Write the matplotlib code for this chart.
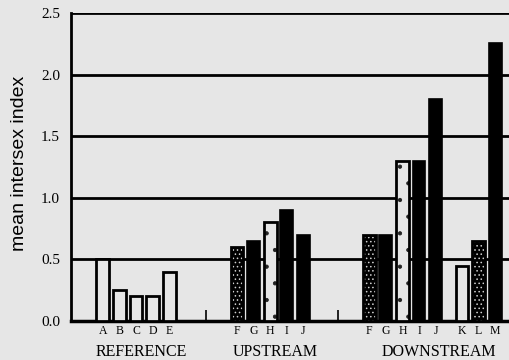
import matplotlib
matplotlib.use("Agg")
import matplotlib.pyplot as plt
import numpy as np

# ---- data ----
groups = ["REFERENCE", "UPSTREAM", "DOWNSTREAM"]
ref_labels = ["A", "B", "C", "D", "E"]
ref_values = [0.5, 0.25, 0.2, 0.2, 0.4]
ref_styles = ["open", "open", "open", "open", "open"]

up_labels = ["F", "G", "H", "I", "J"]
up_values = [0.6, 0.65, 0.8, 0.9, 0.7]
up_styles = ["stipple", "solid", "dots", "solid", "solid"]

down_labels = ["F", "G", "H", "I", "J", "K", "L", "M"]
down_values = [0.7, 0.7, 1.3, 1.3, 1.8, 0.45, 0.65, 2.26]
down_styles = ["stipple", "solid", "dots", "solid", "solid", "open", "stipple", "solid"]

yticks = [0.0, 0.5, 1.0, 1.5, 2.0, 2.5]

# ---- layout (slot positions) ----
ref_pos = np.arange(5) + 0.0
up_pos = np.arange(5) + 8.1
down_pos = np.concatenate([np.arange(5) + 16.1, np.arange(3) + 21.7])

plt.rcParams["hatch.linewidth"] = 0.6

bg = "#e6e6e6"
fig = plt.figure(figsize=(5.1, 3.6), dpi=100, facecolor=bg)
ax = fig.add_axes([71 / 510, 39 / 360, 1 - 71 / 510, 308 / 360])
ax.set_facecolor(bg)

serif = ["Liberation Serif", "DejaVu Serif"]
sans = ["Liberation Sans", "DejaVu Sans"]

ax.set_ylim(0, 2.5)
ax.set_xlim(-1.93, 24.6)

for y in yticks[1:]:
    ax.axhline(y, color="black", lw=2.0, zorder=1)

w = 0.78


def draw(pos, vals, styles):
    for x, v, s in zip(pos, vals, styles):
        if s == "solid":
            ax.bar(x, v, w, color="black", edgecolor="black", lw=1.2, zorder=3)
        elif s == "open":
            ax.bar(x, v, w, color=bg, edgecolor="black", lw=2.0, zorder=3)
        elif s == "dots":
            ax.bar(x, v, w, color=bg, edgecolor="#222222", lw=0, hatch=".", zorder=3)
            ax.bar(x, v, w, fill=False, edgecolor="black", lw=2.0, zorder=4)
        elif s == "stipple":
            ax.bar(x, v, w, color="black", edgecolor="#cfcfcf", lw=0, hatch="....", zorder=3)
            ax.bar(x, v, w, fill=False, edgecolor="black", lw=2.0, zorder=4)


draw(ref_pos, ref_values, ref_styles)
draw(up_pos, up_values, up_styles)
draw(down_pos, down_values, down_styles)

# axes styling
for side in ["top", "right"]:
    ax.spines[side].set_visible(False)
ax.spines["left"].set_linewidth(2.0)
ax.spines["bottom"].set_linewidth(2.5)

ax.set_yticks(yticks)
ax.set_yticklabels([f"{t:.1f}" for t in yticks], fontfamily=serif, fontsize=11)
ax.tick_params(axis="y", length=0, pad=8)

all_pos = np.concatenate([ref_pos, up_pos, down_pos])
all_labels = ref_labels + up_labels + down_labels
ax.set_xticks(all_pos)
ax.set_xticklabels(all_labels, fontfamily=serif, fontsize=8.5)
ax.tick_params(axis="x", length=0, pad=3)

ax.set_xticks([6.2, 14.2], minor=True)
ax.tick_params(axis="x", which="minor", direction="in", length=8, width=1.2)

# group labels
centers = [ref_pos.mean() + 0.3, up_pos.mean() + 0.3, down_pos.mean() + 0.5]
for c, g in zip(centers, groups):
    ax.text(c, -0.25, g, transform=ax.transData, ha="center", va="center",
            fontfamily=serif, fontsize=11.5)

fig.text(20 / 510, 1 - 163 / 360, "mean intersex index", rotation=90,
         ha="center", va="center", fontfamily=sans, fontsize=14)

fig.savefig("out.png", dpi=100, facecolor=bg)
